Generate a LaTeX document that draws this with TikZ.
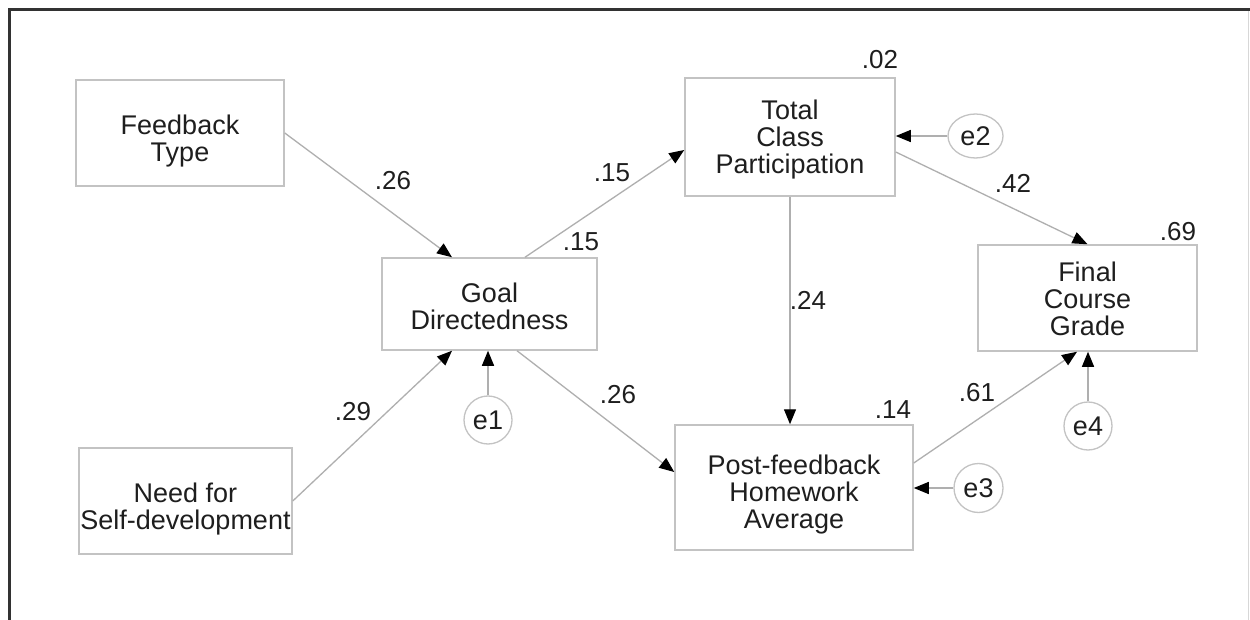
\documentclass[tikz,border=0pt]{standalone}
\usepackage{fontspec}
\setmainfont{Liberation Sans}
\usetikzlibrary{arrows.meta,shapes.geometric}
\definecolor{boxline}{RGB}{195,195,195}
\definecolor{arrline}{RGB}{175,175,175}
\definecolor{txt}{RGB}{30,30,30}
\definecolor{framedark}{RGB}{50,50,50}
\definecolor{framelight}{RGB}{215,215,215}
\begin{document}
\begin{tikzpicture}[x=1pt,y=-1pt,
  var/.style={draw=boxline, line width=1.5pt, inner sep=0pt, align=center, text=txt,
    font=\fontsize{27}{27}\selectfont, text depth=0pt},
  err/.style={draw=boxline, line width=1.3pt, inner sep=0pt, text=txt,
    font=\fontsize{27}{27}\selectfont},
  arr/.style={draw=arrline, line width=1.3pt, -{Triangle[length=15pt,width=12pt,color=black]}},
  coef/.style={text=txt, font=\fontsize{26}{26}\selectfont, inner sep=0pt}]
\useasboundingbox (0,0) rectangle (1250,620);
\fill[white] (0,0) rectangle (1250,620);
% frame
\draw[framedark, line width=3pt] (9.5,620) -- (9.5,9.5) -- (1250,9.5);
\draw[framelight, line width=1pt] (1248.5,11) -- (1248.5,620);
% observed variables
\node[var, text height=57pt, minimum width=208pt, minimum height=106pt] (FT) at (180,133) {Feedback\\Type};
\node[var, text height=56pt, minimum width=213pt, minimum height=106pt] (NSD) at (185.5,501) {Need for\\Self-development};
\node[var, text height=50pt, minimum width=215pt, minimum height=92pt] (GD) at (489.5,304) {Goal\\Directedness};
\node[var, text height=74pt, minimum width=210pt, minimum height=118pt] (TCP) at (790,137) {Total\\Class\\Participation};
\node[var, text height=74pt, minimum width=219pt, minimum height=106pt] (FCG) at (1087.5,298) {Final\\Course\\Grade};
\node[var, text height=81pt, minimum width=238pt, minimum height=125pt] (PHA) at (794,487.5) {Post-feedback\\Homework\\Average};
% errors
\node[err, circle, minimum size=48pt] (e1) at (488,420) {e1};
\node[err, ellipse, minimum width=55pt, minimum height=44pt] (e2) at (975.5,136) {e2};
\node[err, circle, minimum size=49pt] (e3) at (978.5,488) {e3};
\node[err, circle, minimum size=48pt] (e4) at (1088,426) {e4};
% paths
\draw[arr] (FT.east) -- ([xshift=-37.5pt]GD.north);
\draw[arr] (NSD.east) -- ([xshift=-37.5pt]GD.south);
\draw[arr] (e1.north) -- (e1.north |- GD.south);
\draw[arr] ([xshift=35.5pt]GD.north) -- ([yshift=-13pt]TCP.west);
\draw[arr] ([xshift=27.5pt]GD.south) -- ([yshift=15.5pt]PHA.west);
\draw[arr] (TCP.south) -- (TCP.south |- PHA.north);
\draw[arr] (e2.west) -- (e2.west -| TCP.east);
\draw[arr] ([yshift=-15pt]TCP.east) -- (FCG.north);
\draw[arr] ([yshift=24.5pt]PHA.east) -- ([xshift=-10.5pt]FCG.south);
\draw[arr] (e4.north) -- (e4.north |- FCG.south);
\draw[arr] (e3.west) -- (e3.west -| PHA.east);
% coefficients
\node[coef] (c1) at (393,181) {.26};
\node[coef] (c2) at (612,173) {.15};
\node[coef] (r1) at (581,242) {.15};
\node[coef] (r2) at (880,60) {.02};
\node[coef] (c3) at (1013,183) {.42};
\node[coef] (r4) at (1178,232) {.69};
\node[coef] (c4) at (808,300) {.24};
\node[coef] (c5) at (618,395) {.26};
\node[coef] (c6) at (353,412) {.29};
\node[coef] (r3) at (893,410) {.14};
\node[coef] (c7) at (977,393) {.61};
\end{tikzpicture}
\end{document}
